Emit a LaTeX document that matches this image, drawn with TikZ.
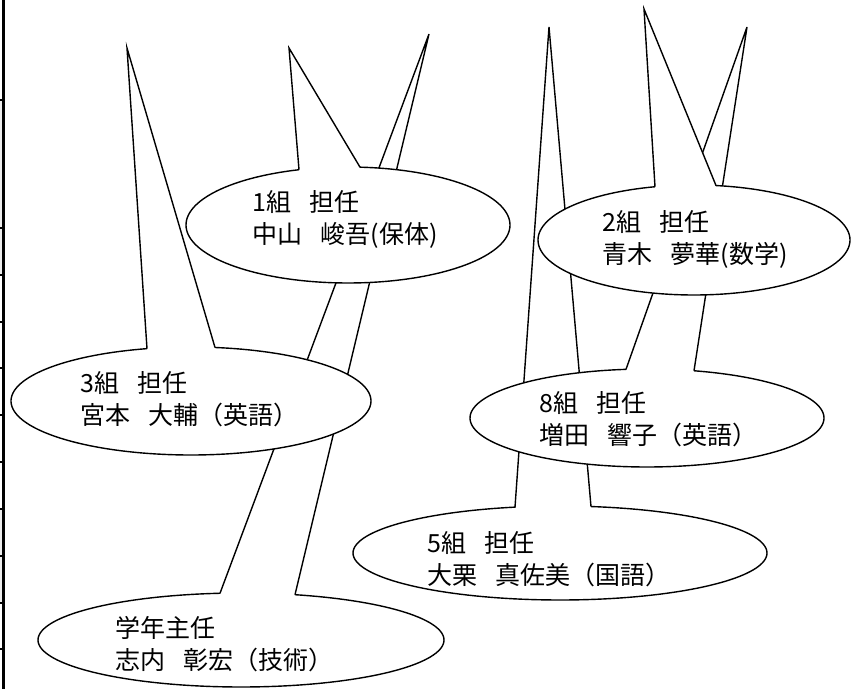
\documentclass[tikz,border=0pt]{standalone}
\usepackage{fontspec}
\newfontfamily\jp{Noto Sans CJK JP}
\newcommand\jgap{\hspace{0.75em}}
\tikzset{
  callout/.style={draw=black, fill=white, line width=1.4bp, line join=miter},
  lbl/.style={anchor=west, align=left, inner sep=0pt, text=black,
    font=\jp\fontsize{25bp}{32bp}\selectfont},
  border/.style={line width=3bp},
  tick/.style={line width=2bp}
}
% #1 name, #2 cx, #3 cy, #4 a, #5 b, #6 xA, #7 xB, #8 apex x, #9 apex y
\newcommand\mycallout[9]{%
  \pgfmathsetmacro\tA{-acos((#6-#2)/#4)}%
  \pgfmathsetmacro\tB{-acos((#7-#2)/#4)}%
  \pgfmathsetmacro\yA{#3+#5*sin(\tA)}%
  \pgfmathsetmacro\yB{#3+#5*sin(\tB)}%
  \pgfmathsetmacro\tEnd{\tA+360}%
  \coordinate (#1-apex) at (#8,#9);
  \coordinate (#1-a) at (#6,\yA);
  \coordinate (#1-b) at (#7,\yB);
  \draw[callout] (#1-a) -- (#1-apex) -- (#1-b) -- plot[domain=\tB:\tEnd, samples=150] ({#2+#4*cos(\x)},{#3+#5*sin(\x)}) -- cycle;
}
\begin{document}
\begin{tikzpicture}[x=1bp, y=-1bp]
\useasboundingbox (0,0) rectangle (853,689);
\fill[white] (0,0) rectangle (853,689);

% left border
\fill[gray!15] (0,100) rectangle (2,275);
\fill[gray!15] (0,509) rectangle (2,603);
\draw[border] (3.5,0) -- (3.5,689);
\foreach \ty in {100,228,275,322,368,415,462,509,556,603,649}
  \draw[tick] (0,\ty) -- (3.5,\ty);

% callouts (back to front)
\mycallout{cg}{241}{640}{203}{47}{220}{295}{429}{34}
\mycallout{c5}{560}{553}{207}{47}{515}{591}{549}{27}
\mycallout{c3}{191}{401}{180}{54}{147}{215}{127}{48}
\mycallout{c8}{647}{418}{177}{49}{626}{694}{747}{27}
\mycallout{c1}{348}{225}{162}{58}{299}{360}{289}{48}
\mycallout{c2}{694}{240}{156}{55}{655}{716}{644}{9}

% texts
\node[lbl] (t1) at (252,219.5) {1組\jgap 担任\\中山\jgap 峻吾(保体)};
\node[lbl] (t2) at (602,239) {2組\jgap 担任\\青木\jgap 夢華(数学)};
\node[lbl] (t3) at (80,399) {3組\jgap 担任\\宮本\jgap 大輔（英語）};
\node[lbl] (t8) at (539,419) {8組\jgap 担任\\増田\jgap 響子（英語）};
\node[lbl] (t5) at (427,559) {5組\jgap 担任\\大栗\jgap 真佐美（国語）};
\node[lbl] (tg) at (115,644) {学年主任\\志内\jgap 彰宏（技術）};
\end{tikzpicture}
\end{document}
